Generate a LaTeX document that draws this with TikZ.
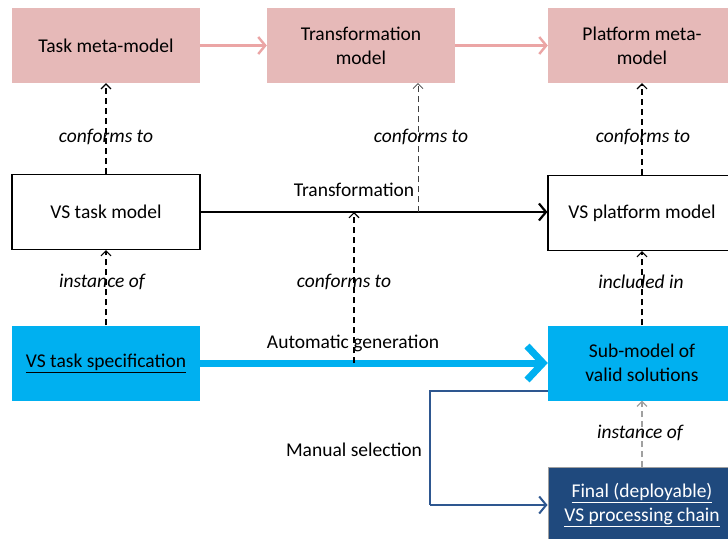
\documentclass[tikz,border=0pt]{standalone}
\usepackage{fontspec}
\setmainfont{Carlito}
\usetikzlibrary{arrows.meta}
\definecolor{pinkfill}{HTML}{E6B9B8}
\definecolor{pinkline}{HTML}{EBA5A5}
\definecolor{cyanfill}{HTML}{00B0F0}
\definecolor{navyfill}{HTML}{1F497D}
\definecolor{navyline}{HTML}{2E5790}
\definecolor{grayline}{HTML}{A0A0A0}
\tikzset{
  box/.style={minimum width=188pt, minimum height=75pt, inner sep=0pt, align=center,
    font=\fontsize{19.5}{24}\selectfont},
  pinkbox/.style={box, fill=pinkfill},
  whitebox/.style={box, draw=black, line width=1.2pt, fill=white},
  cyanbox/.style={box, fill=cyanfill},
  navybox/.style={box, fill=navyfill, draw=grayline, line width=1pt, text=white},
  lbl/.style={font=\fontsize{19.5}{24}\selectfont\itshape, inner sep=0pt},
  plainlbl/.style={font=\fontsize{19.5}{24}\selectfont, inner sep=0pt},
  pinkarrow/.style={draw=pinkline, line width=2.4pt, -{Straight Barb[length=7pt,width=17pt]}},
  dasharrow/.style={draw=black, line width=1.1pt, dash pattern=on 6pt off 4pt, -{Straight Barb[length=5pt,width=10pt]}},
  thindash/.style={dasharrow, line width=0.7pt, draw=black!75},
  graydash/.style={dasharrow, draw=grayline},
  blackarrow/.style={draw=black, line width=2.2pt, -{Straight Barb[length=7pt,width=17pt]}},
  cyanarrow/.style={draw=cyanfill, line width=7pt, -{Straight Barb[length=16pt,width=34pt]}},
  navyarrow/.style={draw=navyline, line width=2pt, -{Straight Barb[length=7pt,width=17pt]}},
}
\begin{document}
\begin{tikzpicture}[x=1pt,y=-1pt]
\useasboundingbox (0,0) rectangle (728,538);
\clip (0,0) rectangle (728,538);
\fill[white] (0,0) rectangle (728,538);
% top row
\node[pinkbox] (tmm) at (106,45.5) {Task meta-model};
\node[pinkbox] (trm) at (361,45.5) {Transformation\\model};
\node[pinkbox] (pmm) at (642,45.5) {Platform meta-\\model};
% middle row
\node[whitebox] (vtm) at (106,212) {VS task model};
\node[whitebox] (vpm) at (642,213) {VS platform model};
% bottom row
\node[cyanbox] (vts) at (106,363) {\underline{VS task specification}};
\node[cyanbox] (sub) at (642,363) {Sub-model of\\valid solutions};
\node[navybox] (fin) at (642,505) {\underline{Final (deployable)}\\\underline{VS processing chain}};
% pink arrows
\draw[pinkarrow] (tmm) -- (trm);
\draw[pinkarrow] (trm) -- (pmm);
% transformation
\draw[blackarrow] (vtm.east) -- (vtm.east -| vpm.west);
\coordinate (t1) at (418,212);
\draw[dasharrow] (vtm.north) -- (tmm.south);
\draw[thindash] (t1) -- (t1 |- trm.south);
\draw[dasharrow] (vpm.north) -- (pmm.south);
% automatic generation
\draw[cyanarrow] (vts.east) -- (vts.east -| sub.west);
\coordinate (a1) at (354,363);
\draw[dasharrow] (a1) -- (a1 |- vtm.east);
\draw[dasharrow] (vts.north) -- (vtm.south);
\draw[dasharrow] (sub.north) -- (vpm.south);
% manual selection
\coordinate (m1) at (430,505);
\draw[navyarrow, -] ([yshift=10pt]sub.south west) -| (m1);
\draw[navyarrow] (m1) -- (fin.west);
\draw[graydash] (fin.north) -- (sub.south);
% labels
\node[lbl] (c1) at (106,137) {conforms to};
\node[lbl] (c2) at (421,137) {conforms to};
\node[lbl] (c3) at (643,137) {conforms to};
\node[lbl] (i1) at (102,282) {instance of};
\node[lbl] (c4) at (344,282) {conforms to};
\node[lbl] (i2) at (641,282) {included in};
\node[lbl] (i3) at (640,433) {instance of};
\node[plainlbl] (lt) at (354,190) {Transformation};
\node[plainlbl] (la) at (353,343) {Automatic generation};
\node[plainlbl] (lm) at (354,450) {Manual selection};
\end{tikzpicture}
\end{document}
